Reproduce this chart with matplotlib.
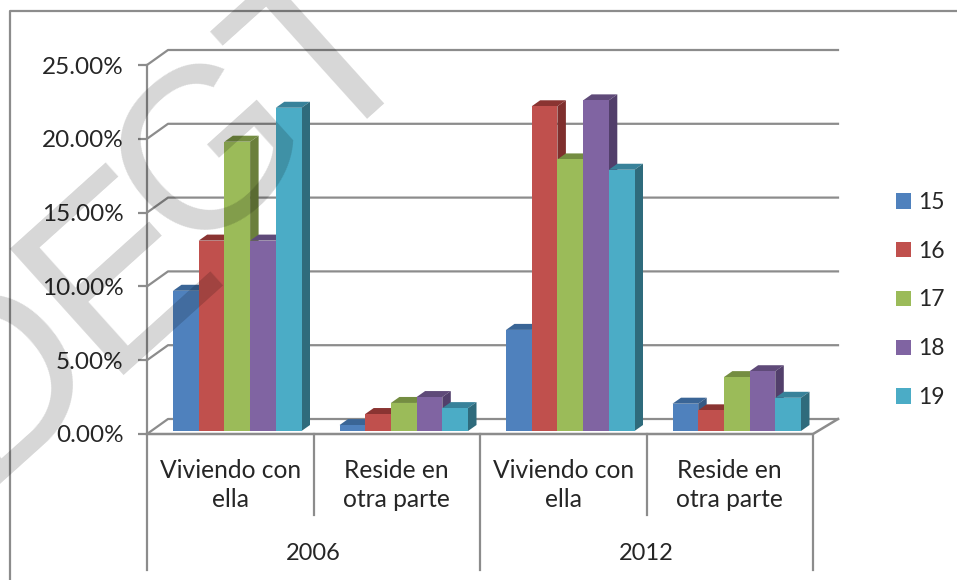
import matplotlib
matplotlib.use("Agg")
import matplotlib.pyplot as plt
from matplotlib.patches import Patch, Polygon

plt.rcParams["font.family"] = ["Lato", "DejaVu Sans"]

#data
categories = ["Viviendo con\nella", "Reside en\notra parte", "Viviendo con\nella", "Reside en\notra parte"]
years = ["2006", "2012"]
ages = ["15", "16", "17", "18", "19"]
age_15 = [9.5, 0.4, 6.85, 1.85]
age_16 = [12.9, 1.15, 22.0, 1.4]
age_17 = [19.6, 1.9, 18.4, 3.65]
age_18 = [12.9, 2.3, 22.4, 4.05]
age_19 = [21.9, 1.55, 17.7, 2.25]
series = [age_15, age_16, age_17, age_18, age_19]
y_ticks = [0, 5, 10, 15, 20, 25]

front = ["#4F81BD", "#C0504D", "#9BBB59", "#8064A2", "#4BACC6"]
top = ["#3A6596", "#8A3432", "#748D41", "#5F4A79", "#38829A"]
side = ["#375A85", "#7F2F2D", "#6B7F3C", "#523F6B", "#2F6B7C"]
grey = "#8C8C8C"
text_col = "#262626"

fig = plt.figure(figsize=(9.57, 5.80), dpi=100)
ax = fig.add_axes([147/957, 1-434/580, 666/957, 369/580])
ax.set_xlim(0, 4)
ax.set_ylim(0, 25)
for s in ax.spines.values():
    s.set_visible(False)

#pixels to data units
px = 4/666
py = 25/369
wall_dx, wall_dy = 21*px, 15*py
depth_dx, depth_dy = 8.5*px, 6*py
bar_w = 25.7*px
base = 3*py
shift = 7*px

#back wall and floor
for v in y_ticks:
    ax.plot([0, wall_dx, 4+25*px], [v, v+wall_dy, v+wall_dy], color=grey, lw=1.6, clip_on=False, zorder=1)
ax.plot([0, 4, 4+25*px], [0, 0, wall_dy], color=grey, lw=1.8, clip_on=False, zorder=1)

#category separators and y axis
ax.plot([0, 0], [25, -136*py], color=grey, lw=1.6, clip_on=False, zorder=1)
for x, low in zip([1, 2, 3, 4], [-81, -136, -81, -136]):
    ax.plot([x, x], [0, low*py], color=grey, lw=1.6, clip_on=False, zorder=1)

ax.set_xticks([])
ax.set_yticks(y_ticks)
ax.set_yticklabels(["%.2f%%" % v for v in y_ticks], fontsize=17.5, color=text_col)
ax.tick_params(axis="y", length=6.5, width=1.6, color=grey, pad=10.5)

for i, name in enumerate(categories):
    ax.text(i+0.5, -51*py, name, ha="center", va="center", fontsize=17.7, color=text_col, linespacing=1.3)
for i, name in enumerate(years):
    ax.text(i*2+1, -120*py, name, ha="center", va="center", fontsize=17, color=text_col)

#bars, left to right so each front hides the previous side
for g in range(4):
    left = g + 0.5 - 2.5*bar_w + shift
    for k, values in enumerate(series):
        x0 = left + k*bar_w
        x1 = x0 + bar_w
        y1 = values[g] + base
        ax.add_patch(Polygon([(x0, y1), (x1, y1), (x1+depth_dx, y1+depth_dy), (x0+depth_dx, y1+depth_dy)],
                             facecolor=top[k], edgecolor="none", clip_on=False, zorder=3+g+k*0.1))
        ax.add_patch(Polygon([(x1, base), (x1+depth_dx, base+depth_dy), (x1+depth_dx, y1+depth_dy), (x1, y1)],
                             facecolor=side[k], edgecolor="none", clip_on=False, zorder=3+g+k*0.1))
        ax.bar(x0, values[g], width=bar_w, bottom=base, align="edge", color=front[k], clip_on=False, zorder=3+g+k*0.1+0.01)

#legend
handles = [Patch(facecolor=c, label=a) for c, a in zip(front, ages)]
fig.legend(handles=handles, loc="center left", bbox_to_anchor=(896/957, 1-300/580), frameon=False,
           fontsize=16.5, labelcolor=text_col, handlelength=0.65, handleheight=0.65,
           handletextpad=0.3, labelspacing=1.21, borderpad=0, borderaxespad=0)

#outer border, only top and left show
fig.add_artist(plt.Line2D([10/957, 10/957, 1], [0, 1-11/580, 1-11/580], color=grey, lw=1.6))

#watermark
for letter, x, y, size in [("D", 0, 380, 178), ("E", 122, 272, 178), ("G", 214, 155, 165), ("T", 332, 60, 178)]:
    fig.text(x/957, 1-y/580, letter, fontsize=size, rotation=42, rotation_mode="anchor", ha="center", va="center",
             color="black", alpha=0.16, family="Liberation Sans", zorder=20)

plt.savefig("out.png", dpi=100)
